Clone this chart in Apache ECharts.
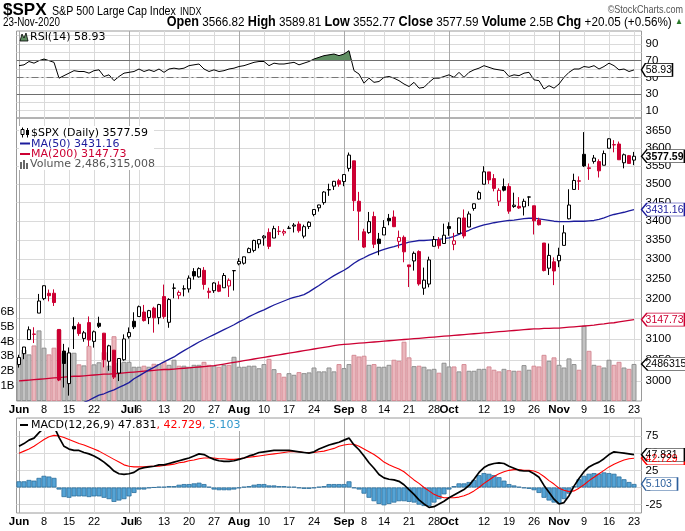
<!DOCTYPE html>
<html><head><meta charset="utf-8">
<script src="https://cdn.jsdelivr.net/npm/echarts@6/dist/echarts.min.js"></script>
<style>html,body{margin:0;padding:0;background:#fff}#c{width:685px;height:531px}</style>
</head><body><div id="c"></div><script>
// ---------------- DATA ----------------
const dates = ['06-01','06-02','06-03','06-04','06-05','06-08','06-09','06-10','06-11','06-12','06-15','06-16','06-17','06-18','06-19','06-22','06-23','06-24','06-25','06-26','06-29','06-30',
'07-01','07-02','07-06','07-07','07-08','07-09','07-10','07-13','07-14','07-15','07-16','07-17','07-20','07-21','07-22','07-23','07-24','07-27','07-28','07-29','07-30','07-31',
'08-03','08-04','08-05','08-06','08-07','08-10','08-11','08-12','08-13','08-14','08-17','08-18','08-19','08-20','08-21','08-24','08-25','08-26','08-27','08-28','08-31',
'09-01','09-02','09-03','09-04','09-08','09-09','09-10','09-11','09-14','09-15','09-16','09-17','09-18','09-21','09-22','09-23','09-24','09-25','09-28','09-29','09-30',
'10-01','10-02','10-05','10-06','10-07','10-08','10-09','10-12','10-13','10-14','10-15','10-16','10-19','10-20','10-21','10-22','10-23','10-26','10-27','10-28','10-29','10-30',
'11-02','11-03','11-04','11-05','11-06','11-09','11-10','11-11','11-12','11-13','11-16','11-17','11-18','11-19','11-20','11-23'];

const open = [3038.78,3064.78,3098.90,3111.56,3163.84,3199.92,3213.32,3213.42,3123.53,3071.04,2993.76,3131.00,3136.13,3101.64,3140.29,3094.42,3138.70,3114.40,3046.60,3073.20,3018.59,3050.20,
3105.92,3143.64,3155.29,3166.44,3153.07,3176.17,3152.47,3205.08,3141.11,3225.98,3208.36,3224.21,3224.29,3268.52,3254.86,3271.64,3218.58,3219.84,3234.27,3227.22,3231.76,3270.45,
3288.26,3289.92,3317.37,3323.17,3340.05,3356.04,3370.34,3355.46,3372.95,3368.66,3380.86,3387.04,3392.51,3360.48,3386.01,3418.09,3435.95,3449.97,3485.14,3494.69,3509.73,
3507.44,3543.76,3564.74,3453.60,3371.88,3369.82,3412.56,3352.70,3363.56,3407.73,3411.23,3346.86,3357.38,3285.57,3295.75,3320.11,3226.14,3236.66,3333.90,3350.92,3341.21,
3385.87,3338.94,3367.27,3408.74,3384.56,3434.28,3459.67,3500.02,3534.01,3515.47,3453.72,3493.50,3493.66,3439.38,3439.91,3438.50,3464.90,3441.42,3403.15,3342.48,3277.17,3293.59,
3296.20,3336.25,3406.46,3485.74,3508.34,3583.04,3543.26,3563.22,3562.67,3552.57,3600.16,3610.31,3612.09,3559.41,3579.31,3566.82];
const high = [3062.18,3081.07,3130.94,3128.91,3211.72,3233.13,3222.71,3223.27,3123.53,3088.42,3079.76,3153.45,3141.16,3120.00,3155.53,3120.92,3154.90,3115.01,3086.25,3073.73,3053.89,3111.51,
3128.44,3165.81,3182.59,3184.15,3171.80,3179.78,3186.82,3235.32,3200.95,3238.28,3220.39,3233.52,3258.61,3277.29,3279.32,3279.99,3227.26,3241.43,3243.72,3264.74,3250.92,3272.17,
3302.73,3306.84,3330.77,3351.03,3352.54,3363.29,3381.01,3387.89,3387.24,3378.51,3387.59,3395.06,3399.54,3390.80,3399.96,3432.09,3444.21,3481.07,3501.38,3509.23,3514.77,
3528.03,3588.11,3564.85,3479.15,3379.97,3424.77,3425.55,3368.95,3402.93,3419.48,3428.92,3375.17,3362.27,3285.57,3320.31,3323.35,3278.70,3306.88,3360.74,3357.92,3393.56,
3397.18,3369.10,3409.57,3431.56,3426.26,3447.28,3482.34,3549.85,3534.01,3527.94,3489.08,3515.76,3502.42,3476.93,3464.86,3460.53,3466.46,3441.42,3409.51,3342.48,3341.05,3304.93,
3330.14,3389.49,3486.25,3529.05,3521.58,3645.99,3557.22,3581.16,3569.02,3593.66,3628.51,3623.11,3619.09,3585.22,3581.23,3589.81];
const low = [3031.54,3051.64,3098.90,3090.41,3163.84,3196.00,3193.11,3181.49,2999.49,2984.47,2965.66,3076.06,3108.03,3093.51,3083.11,3079.39,3127.12,3032.13,3024.01,3004.63,2999.74,3047.83,
3101.17,3124.52,3155.29,3142.93,3136.53,3115.70,3136.22,3149.43,3127.66,3200.76,3198.59,3205.65,3215.16,3247.77,3253.10,3222.66,3200.05,3214.25,3216.17,3227.22,3204.13,3220.26,
3284.53,3286.37,3317.37,3318.14,3328.72,3335.44,3326.44,3355.46,3363.35,3361.64,3379.22,3370.15,3369.66,3354.69,3379.31,3413.13,3425.84,3444.15,3468.35,3484.32,3493.25,
3494.60,3535.23,3427.41,3349.63,3329.27,3366.84,3329.25,3310.47,3363.56,3389.25,3384.45,3328.82,3292.40,3229.10,3270.95,3232.57,3209.45,3228.44,3332.91,3327.54,3340.47,
3361.39,3323.69,3367.27,3354.54,3384.56,3428.15,3458.07,3499.61,3500.86,3480.55,3440.89,3480.45,3419.93,3435.65,3433.06,3415.34,3440.45,3364.86,3388.71,3268.89,3259.82,3233.94,
3279.74,3336.25,3405.17,3485.74,3484.34,3547.48,3511.91,3557.00,3518.58,3552.57,3600.16,3588.68,3567.33,3543.84,3556.85,3552.77];
const close = [3055.73,3080.82,3122.87,3112.35,3193.93,3232.39,3207.18,3190.14,3002.10,3041.31,3066.59,3124.74,3113.49,3115.34,3097.74,3117.86,3131.29,3050.33,3083.76,3009.05,3053.24,3100.29,
3115.86,3130.01,3179.72,3145.32,3169.94,3152.05,3185.04,3155.22,3197.52,3226.56,3215.57,3224.73,3251.84,3257.30,3276.02,3235.66,3215.63,3239.41,3218.44,3258.44,3246.22,3271.12,
3294.61,3306.51,3327.77,3349.16,3351.28,3360.47,3333.69,3380.35,3373.43,3372.85,3381.99,3389.78,3374.85,3385.51,3397.16,3431.28,3443.62,3478.73,3484.55,3508.01,3500.31,
3526.65,3580.84,3455.06,3426.96,3331.84,3398.96,3339.19,3340.97,3383.54,3401.20,3385.49,3357.01,3319.47,3281.06,3315.57,3236.92,3246.59,3298.46,3351.60,3335.47,3363.00,
3380.80,3348.42,3408.60,3360.97,3419.44,3446.83,3477.14,3534.22,3511.93,3488.67,3483.34,3483.81,3426.92,3443.12,3435.56,3453.49,3465.39,3400.97,3390.68,3271.03,3310.11,3269.96,
3310.24,3369.16,3443.44,3510.45,3509.44,3550.50,3545.53,3572.66,3537.01,3585.15,3626.91,3609.53,3567.79,3581.87,3557.54,3577.59];
// volume in billions of shares
const volume = [2.86,3.46,3.13,3.73,4.74,3.58,3.13,3.58,4.80,3.24,3.24,3.24,2.46,2.39,3.70,2.46,2.60,3.30,2.37,4.35,2.59,2.63,
2.63,2.30,2.30,2.37,2.30,2.50,2.48,2.63,2.43,2.77,2.37,2.37,2.30,2.43,2.43,2.63,2.43,2.37,2.30,2.43,2.43,2.97,
2.30,2.30,2.37,2.37,2.20,2.48,2.83,2.14,1.87,1.63,1.87,1.76,1.94,1.87,1.92,2.25,1.99,1.99,2.25,1.99,2.48,
2.21,2.48,3.10,2.99,3.04,2.43,2.48,2.30,2.30,2.43,2.77,2.70,3.98,2.93,2.34,2.37,2.30,2.12,2.16,1.90,2.57,
2.32,2.32,1.99,2.48,2.03,2.03,2.16,2.16,2.32,2.10,1.99,2.16,2.07,2.03,2.03,2.41,2.10,2.37,2.32,3.10,2.70,2.93,
2.43,2.25,2.86,2.48,2.10,5.05,3.37,2.43,2.37,2.25,2.77,2.43,2.63,2.25,2.16,2.486315008];
const ma50 = [2890,2895,2900,2905,2911,2916,2921,2926,2930,2934,2938,2942,2946,2950,2955,2961,2967,2970,2975,2979,2985,2990,
2996,3005,3012,3019,3026,3032,3039,3045,3051,3057,3065,3072,3079,3086,3093,3099,3105,3111,3117,3123,3129,3135,
3142,3148,3155,3161,3167,3172,3178,3184,3189,3194,3199,3203,3206,3210,3217,3225,3233,3242,3250,3258,3265,
3272,3280,3290,3298,3304,3311,3316,3321,3326,3330,3333,3337,3341,3345,3347,3349,3349,3350,3351,3352,3354,
3356,3360,3365,3371,3376,3382,3386,3390,3393,3396,3398,3400,3402,3403,3405,3407,3408,3408,3406,3404,3402,3400,
3399,3399,3399,3400,3400,3400,3401,3402,3405,3409,3414,3418,3421,3424,3428,3431.16];
const ma200 = [3000,3001,3002,3003,3004,3005,3006,3007,3008,3009,3010,3011,3011,3012,3013,3014,3015,3016,3016,3017,3018,3019,
3020,3021,3022,3023,3024,3025,3026,3027,3027,3028,3029,3030,3031,3032,3033,3034,3035,3036,3038,3040,3042,3044,
3046,3048,3050,3052,3054,3056,3058,3060,3062,3064,3066,3068,3070,3072,3074,3076,3078,3080,3082,3084,3086,
3087,3088,3089,3090,3091,3092,3093,3094,3095,3096,3097,3098,3099,3100,3101,3102,3103,3104,3105,3106,3107,
3108,3109,3110,3111,3112,3113,3114,3115,3116,3117,3118,3119,3120,3121,3122,3123,3124,3125,3125,3126,3126,3127,
3127,3128,3129,3130,3131,3132,3133,3134,3136,3137,3139,3140,3142,3144,3146,3147.73];
const rsi = [64,65,69,67,70,72,70,68,49,52,55,58,57,57,55,58,59,51,53,46,51,55,
56,57,60,57,59,57,60,56,60,61,60,61,64,65,66,60,57,59,57,58,60,61,
63,64,66,68,69,69,64,67,66,66,67,68,65,67,69,72,74,76,77,78,76,
78,82,58,54,43,49,44,45,50,51,49,46,42,39,44,37,38,44,49,49,51,
53,50,56,50,56,59,61,64,62,60,59,58,51,53,52,55,56,47,46,36,40,37,
42,50,56,60,60,63,62,64,60,63,67,64,59,60,57,58.93];
const macd = [60,64,69,72,80,87,90,89,73,60,56,54,54,51,49,46,42,37,31,24,20,19,
20,22,27,29,30,31,33,33,35,37,39,41,43,46,49,48,44,41,39,38,38,39,
41,43,46,48,51,52,53,54,54,54,54,53,52,51,50,52,56,59,62,64,66,
69,72,62,55,46,36,28,19,14,12,11,9,4,-3,-10,-18,-24,-29,-28,-24,-20,
-15,-11,-7,-3,3,12,22,29,33,35,36,35,31,28,25,24,24,20,15,3,-7,-17,
-24,-22,-12,2,13,23,30,34,37,42,48,52,51,50,49,47.831];
const signal = [50,53,56,60,65,70,74,76,75,73,70,67,64,62,59,56,53,49,45,41,37,33,
31,30,30,30,31,31,31,32,33,34,36,37,39,40,42,43,43,43,42,42,41,41,
42,43,44,45,46,47,48,49,50,51,52,52,52,51,51,51,52,53,55,57,60,
62,63,63,60,56,52,48,43,37,33,30,27,23,17,11,6,0,-5,-10,-13,-15,
-15,-15,-14,-12,-9,-5,0,6,11,16,20,23,25,26,26,25,25,24,21,16,10,5,
-1,-4,-6,-5,-1,4,10,15,20,25,30,34,37,40,42,42.729];
const hist = [9,9,11,10,14,17,16,14,-3,-14,-15,-13,-13,-13,-14,-13,-13,-15,-17,-21,-19,-17,
-13,-8,-3,-3,-1,0,1,1,2,2,4,5,5,6,7,5,1,-3,-4,-4,-4,-3,
-1,1,2,4,5,5,3,3,2,2,1,1,-1,-2,-2,-1,1,2,5,5,5,
5,9,-1,-3,-9,-15,-20,-24,-26,-24,-22,-20,-20,-21,-22,-25,-27,-27,-22,-17,-10,
-3,2,6,6,8,11,18,21,20,18,15,10,5,3,1,-1,-2,-4,-8,-15,-19,-22,
-24,-17,-9,2,12,17,20,21,20,22,21,20,16,12,8,5.103];

// tick labels
const tickDates = ['06-01','06-08','06-15','06-22','07-01','07-06','07-13','07-20','07-27','08-03','08-10','08-17','08-24','09-01','09-08','09-14','09-21','09-28','10-01','10-12','10-19','10-26','11-02','11-09','11-16','11-23'];
const tickText  = ['Jun','8','15','22','Jul','6','13','20','27','Aug','10','17','24','Sep','8','14','21','28','Oct','12','19','26','Nov','9','16','23'];
const monthDates = ['06-01','07-01','08-03','09-01','10-01','11-02'];
const priceTicks = [3000,3050,3100,3150,3200,3250,3300,3350,3400,3450,3500,3550,3600,3650];
const rsiTicks = [10,20,30,40,50,60,70,80,90,100];
const rsiLabels = [10,30,50,70,90];
const macdTicks = [-25,0,25,50,75];
const volLabels = [1,2,3,4,5,6];
const RSI_OB = 70;

// ---------------- CHART ----------------
const ARIAL = "'Liberation Sans',Arial,sans-serif";
const VERD = "'DejaVu Sans',Verdana,sans-serif";
const NARROW_SCALE = 0.82;
const N = close.length;
const idx = close.map((_, i) => i);
const X_MIN = -0.5, X_MAX = N + 0.5;
const tickIdx = tickDates.map(d => dates.indexOf(d));
const monthIdx = monthDates.map(d => dates.indexOf(d));
const monthSet = new Set(monthIdx);
const GRID_C = '#dadada', MONTH_C = '#a9a9a9', FRAME_C = '#9a9a9a';
const RED = '#cc0033', NAVY = '#1c1c9c', GREEN = '#5f8e62';

function upDay(i) { return i === 0 ? true : close[i] >= close[i - 1]; }
function candleStyle(i) {
  const col = upDay(i) ? '#000000' : RED;
  const fill = close[i] > open[i] ? '#ffffff' : col;
  return { color: fill, color0: fill, borderColor: col, borderColor0: col, borderWidth: 1 };
}
function volStyle(i) {
  return upDay(i) ? { color: '#c2c2c2', borderColor: '#909090', borderWidth: 1 }
                  : { color: '#eab7bd', borderColor: '#d58c96', borderWidth: 1 };
}
function tag(yVal, text, color, w, bold) {
  return {
    coord: [X_MAX, yVal],
    symbol: 'path://M0,6.5 L5,0 L40,0 L40,13 L5,13 Z',
    symbolSize: [w, 13], symbolKeepAspect: false, symbolOffset: [w / 2, 0],
    itemStyle: { color: '#fff', borderColor: color, borderWidth: 1 },
    label: { show: true, position: 'insideLeft', distance: 5, formatter: text, color: color, fontFamily: ARIAL,
             fontSize: 10.5, fontWeight: bold ? 'bold' : 'normal', offset: [0, 0.5] }
  };
}
function xAxisWeek(g, show) {
  return { type: 'value', gridIndex: g, min: X_MIN, max: X_MAX,
    axisLine: { show: false }, axisTick: { show: false, customValues: tickIdx },
    axisLabel: { show: show, customValues: tickIdx, margin: 3, color: '#000',
      formatter: v => { const k = tickIdx.indexOf(v); if (k < 0) return ''; return monthSet.has(v) ? '{m|' + tickText[k] + '}' : '{d|' + tickText[k] + '}'; },
      rich: { m: { fontFamily: ARIAL, fontWeight: 'bold', fontSize: 11.5, color: '#000' },
              d: { fontFamily: ARIAL, fontSize: 11, color: '#000' } } },
    splitLine: { show: true, lineStyle: { color: GRID_C, width: 1 } } };
}
function xAxisMonth(g) {
  return { type: 'value', gridIndex: g, min: X_MIN, max: X_MAX,
    axisLine: { show: false }, axisTick: { show: false, customValues: monthIdx },
    axisLabel: { show: false }, splitLine: { show: true, lineStyle: { color: MONTH_C, width: 1 } } };
}
const ylab = { fontFamily: ARIAL, fontSize: 11.5, color: '#000', margin: 4 };
const noLine = { show: false };

const chg = close[N - 1] - close[N - 2];
const pct = chg / close[N - 2] * 100;
const quote = `{b|Open} ${open[N-1].toFixed(2)} {b|High} ${high[N-1].toFixed(2)} {b|Low} ${low[N-1].toFixed(2)} {b|Close} ${close[N-1].toFixed(2)} {b|Volume} ${volume[N-1].toFixed(1)}B {b|Chg} ${chg >= 0 ? '+' : ''}${chg.toFixed(2)} (${pct >= 0 ? '+' : ''}${pct.toFixed(2)}%) {g|▲}`;
const volFull = Math.round(volume[N - 1] * 1e9);

const lineS = (name, xi, yi, data, color, width, z) => ({
  type: 'line', name, xAxisIndex: xi, yAxisIndex: yi, showSymbol: false, symbol: 'none', z: z || 3,
  data: idx.map(i => [i, data[i]]), lineStyle: { color, width }, itemStyle: { color }, silent: true
});

// overbought fill between RSI and the 70 line, one segment per day pair
function renderOB(params, api) {
  const x = api.value(0), a = api.value(1), b = api.value(2), L = RSI_OB;
  if (a <= L && b <= L) return null;
  let pts;
  if (a >= L && b >= L) pts = [api.coord([x, L]), api.coord([x, a]), api.coord([x + 1, b]), api.coord([x + 1, L])];
  else if (a > L) { const t = (a - L) / (a - b); pts = [api.coord([x, L]), api.coord([x, a]), api.coord([x + t, L])]; }
  else { const t = (L - a) / (b - a); pts = [api.coord([x + t, L]), api.coord([x + 1, b]), api.coord([x + 1, L])]; }
  return { type: 'polygon', shape: { points: pts }, style: { fill: GREEN } };
}

const option = {
  animation: false,
  backgroundColor: '#ffffff',
  grid: [
    { left: 16.5, width: 625, top: 31, height: 87, show: true, borderColor: FRAME_C, borderWidth: 1, outerBoundsMode: 'none', containLabel: false },
    { left: 16.5, width: 625, top: 118, height: 283, show: true, borderColor: FRAME_C, borderWidth: 1, outerBoundsMode: 'none', containLabel: false },
    { left: 16.5, width: 625, top: 418, height: 95, show: true, borderColor: FRAME_C, borderWidth: 1, outerBoundsMode: 'none', containLabel: false }
  ],
  xAxis: [xAxisWeek(0, false), xAxisMonth(0), xAxisWeek(1, true), xAxisMonth(1), xAxisWeek(2, true), xAxisMonth(2)],
  yAxis: [
    { type: 'value', gridIndex: 0, position: 'right', min: 1.2, max: 105.6, axisLine: noLine,
      axisTick: { show: false, customValues: rsiTicks }, axisLabel: Object.assign({ customValues: rsiLabels }, ylab),
      splitLine: { show: true, lineStyle: { color: GRID_C } } },
    { type: 'log', logBase: 10, gridIndex: 1, position: 'right', min: 2953.2, max: 3686.5, axisLine: noLine,
      axisTick: { show: false, customValues: priceTicks }, axisLabel: Object.assign({ customValues: priceTicks, formatter: v => String(v) }, ylab),
      splitLine: { show: true, lineStyle: { color: GRID_C } } },
    { type: 'value', gridIndex: 1, position: 'left', min: 0, max: 19, axisLine: noLine,
      axisTick: { show: false, customValues: volLabels },
      axisLabel: Object.assign({}, ylab, { customValues: volLabels, formatter: v => v + 'B', margin: 2 }),
      splitLine: { show: false } },
    { type: 'value', gridIndex: 2, position: 'right', min: -37.2, max: 101.3, axisLine: noLine,
      axisTick: { show: false, customValues: macdTicks }, axisLabel: Object.assign({ customValues: macdTicks }, ylab),
      splitLine: { show: true, lineStyle: { color: GRID_C } } }
  ],
  series: [
    { type: 'bar', name: 'Volume', xAxisIndex: 2, yAxisIndex: 2, barWidth: 5, z: 1, silent: true,
      data: idx.map(i => ({ value: [i, volume[i]], itemStyle: volStyle(i) })),
      markPoint: { silent: true, animation: false, data: [tag(volume[N - 1], String(volFull), '#000', 50, false)] } },
    Object.assign(lineS('MA(200)', 2, 1, ma200, RED, 1.3, 2),
      { markPoint: { silent: true, animation: false, data: [tag(ma200[N - 1], ma200[N - 1].toFixed(2), RED, 43, false)] } }),
    Object.assign(lineS('MA(50)', 2, 1, ma50, NAVY, 1.3, 2),
      { markPoint: { silent: true, animation: false, data: [tag(ma50[N - 1], ma50[N - 1].toFixed(2), NAVY, 43, false)] } }),
    { type: 'candlestick', name: '$SPX', xAxisIndex: 2, yAxisIndex: 1, barWidth: 4, z: 4, silent: true,
      dimensions: ['x', 'open', 'close', 'lowest', 'highest'],
      encode: { x: 'x', y: ['open', 'close', 'lowest', 'highest'] },
      data: idx.map(i => ({ value: [i, open[i], close[i], low[i], high[i]], itemStyle: candleStyle(i) })) },
    { type: 'line', name: 'priceTag', xAxisIndex: 2, yAxisIndex: 1, symbol: 'none', z: 5, silent: true,
      lineStyle: { opacity: 0 }, data: [[N - 1, close[N - 1]]],
      markPoint: { silent: true, animation: false, data: [tag(close[N - 1], close[N - 1].toFixed(2), '#000', 43, true)] } },
    { type: 'custom', name: 'rsiOB', xAxisIndex: 0, yAxisIndex: 0, z: 2, silent: true, renderItem: renderOB,
      encode: { x: 0, y: [1, 2] }, data: idx.slice(0, N - 1).map(i => [i, rsi[i], rsi[i + 1]]) },
    Object.assign(lineS('RSI(14)', 0, 0, rsi, '#000', 1, 3), {
      markLine: { silent: true, symbol: 'none', animation: false, label: { show: false },
        data: [ { yAxis: 70, lineStyle: { color: '#6e6e6e', width: 1.2, type: 'solid' } },
                { yAxis: 30, lineStyle: { color: '#6e6e6e', width: 1.2, type: 'solid' } },
                { yAxis: 50, lineStyle: { color: '#777', width: 1, type: [7, 3, 2, 3] } } ] },
      markPoint: { silent: true, animation: false, data: [tag(rsi[N - 1], rsi[N - 1].toFixed(2), '#000', 31, false)] } }),
    { type: 'bar', name: 'Hist', xAxisIndex: 4, yAxisIndex: 3, barWidth: 5, z: 2, silent: true,
      itemStyle: { color: '#55a4d6', borderColor: '#2c6e9c', borderWidth: 0.8 },
      data: idx.map(i => [i, hist[i]]),
      markPoint: { silent: true, animation: false, data: [tag(hist[N - 1], hist[N - 1].toFixed(3), '#2c5f9c', 36, false)] } },
    Object.assign(lineS('Signal', 4, 3, signal, '#ff0000', 1.1, 3),
      { markPoint: { silent: true, animation: false, data: [tag(signal[N - 1], signal[N - 1].toFixed(3), '#ff0000', 43, false)] } }),
    Object.assign(lineS('MACD', 4, 3, macd, '#000', 1.7, 4),
      { markPoint: { silent: true, animation: false, data: [tag(macd[N - 1], macd[N - 1].toFixed(3), '#000', 43, false)] } })
  ],
  graphic: { elements: [
    { type: 'text', x: 3, y: 2, z: 100, style: { text: '$SPX', fontFamily: ARIAL, fontWeight: 'bold', fontSize: 17, fill: '#000' } },
    { type: 'text', x: 52, y: 5, z: 100, scaleX: NARROW_SCALE, style: { text: 'S&P 500 Large Cap Index', fontFamily: ARIAL, fontSize: 13, fill: '#000' } },
    { type: 'text', x: 180, y: 6, z: 100, scaleX: NARROW_SCALE, style: { text: 'INDX', fontFamily: ARIAL, fontSize: 11, fill: '#000' } },
    { type: 'text', x: 683, y: 4, z: 100, scaleX: NARROW_SCALE, style: { text: '©StockCharts.com', align: 'right', fontFamily: ARIAL, fontSize: 11, fill: '#555' } },
    { type: 'text', x: 3, y: 17, z: 100, scaleX: NARROW_SCALE, style: { text: '23-Nov-2020', fontFamily: ARIAL, fontSize: 12, fill: '#000' } },
    { type: 'text', x: 683, y: 15, z: 100, scaleX: 0.9, style: { text: quote, align: 'right', fontFamily: ARIAL, fontSize: 13, fill: '#000',
        rich: { b: { fontFamily: ARIAL, fontWeight: 'bold', fontSize: 14, fill: '#000' }, g: { fontSize: 9, fill: '#2a7a2a' } } } },
    // RSI legend
    { type: 'polygon', z: 100, shape: { points: [[20, 41], [22, 34], [24, 38], [26, 33], [28, 41]] }, style: { fill: GREEN, stroke: '#000', lineWidth: 0.8 } },
    { type: 'text', x: 30, y: 37.5, z: 100, style: { text: 'RSI(14) ' + rsi[N - 1].toFixed(2), fontFamily: VERD, fontSize: 11, fill: '#000', verticalAlign: 'middle' } },
    // price legend
    { type: 'rect', z: 100, shape: { x: 19, y: 126, width: 135, height: 44 }, style: { fill: '#fff' } },
    { type: 'line', z: 101, shape: { x1: 22.5, y1: 127.5, x2: 22.5, y2: 137.5 }, style: { stroke: '#000', lineWidth: 1 } },
    { type: 'rect', z: 101, shape: { x: 21, y: 129.5, width: 3, height: 5 }, style: { fill: '#fff', stroke: '#000', lineWidth: 1 } },
    { type: 'line', z: 101, shape: { x1: 27.5, y1: 128, x2: 27.5, y2: 137.5 }, style: { stroke: '#000', lineWidth: 1 } },
    { type: 'rect', z: 101, shape: { x: 26, y: 130, width: 3, height: 5 }, style: { fill: '#000' } },
    { type: 'text', x: 31, y: 133, z: 101, style: { text: '$SPX (Daily) ' + close[N - 1].toFixed(2), fontFamily: VERD, fontSize: 11, fill: '#000', verticalAlign: 'middle' } },
    { type: 'line', z: 101, shape: { x1: 20, y1: 143.5, x2: 30, y2: 143.5 }, style: { stroke: NAVY, lineWidth: 2 } },
    { type: 'text', x: 31, y: 143.7, z: 101, style: { text: 'MA(50) ' + ma50[N - 1].toFixed(2), fontFamily: VERD, fontSize: 11, fill: NAVY, verticalAlign: 'middle' } },
    { type: 'line', z: 101, shape: { x1: 20, y1: 154, x2: 30, y2: 154 }, style: { stroke: RED, lineWidth: 2 } },
    { type: 'text', x: 31, y: 154.2, z: 101, style: { text: 'MA(200) ' + ma200[N - 1].toFixed(2), fontFamily: VERD, fontSize: 11, fill: RED, verticalAlign: 'middle' } },
    { type: 'rect', z: 101, shape: { x: 20, y: 162, width: 2, height: 7 }, style: { fill: '#666' } },
    { type: 'rect', z: 101, shape: { x: 23, y: 160, width: 2, height: 9 }, style: { fill: '#666' } },
    { type: 'rect', z: 101, shape: { x: 26, y: 163, width: 2, height: 6 }, style: { fill: '#666' } },
    { type: 'text', x: 30, y: 164.5, z: 101, style: { text: 'Volume ' + volFull.toLocaleString('en-US'), fontFamily: VERD, fontSize: 11, fill: '#555', verticalAlign: 'middle' } },
    // MACD legend
    { type: 'rect', z: 100, shape: { x: 17.5, y: 419, width: 232, height: 12 }, style: { fill: '#fff' } },
    { type: 'line', z: 101, shape: { x1: 20, y1: 425, x2: 28, y2: 425 }, style: { stroke: '#000', lineWidth: 2 } },
    { type: 'text', x: 31, y: 425, z: 101, style: {
        text: `{k|MACD(12,26,9) ${macd[N - 1].toFixed(3)}}{r|, ${signal[N - 1].toFixed(3)}}{c|, ${hist[N - 1].toFixed(3)}}`,
        fontFamily: VERD, fontSize: 11, verticalAlign: 'middle',
        rich: { k: { fill: '#000', fontFamily: VERD, fontSize: 11 }, r: { fill: '#ff0000', fontFamily: VERD, fontSize: 11 }, c: { fill: '#3399cc', fontFamily: VERD, fontSize: 11 } } } }
  ] }
};
const chart = echarts.init(document.getElementById('c'), null, { renderer: 'canvas' });
chart.setOption(option);
</script></body></html>
